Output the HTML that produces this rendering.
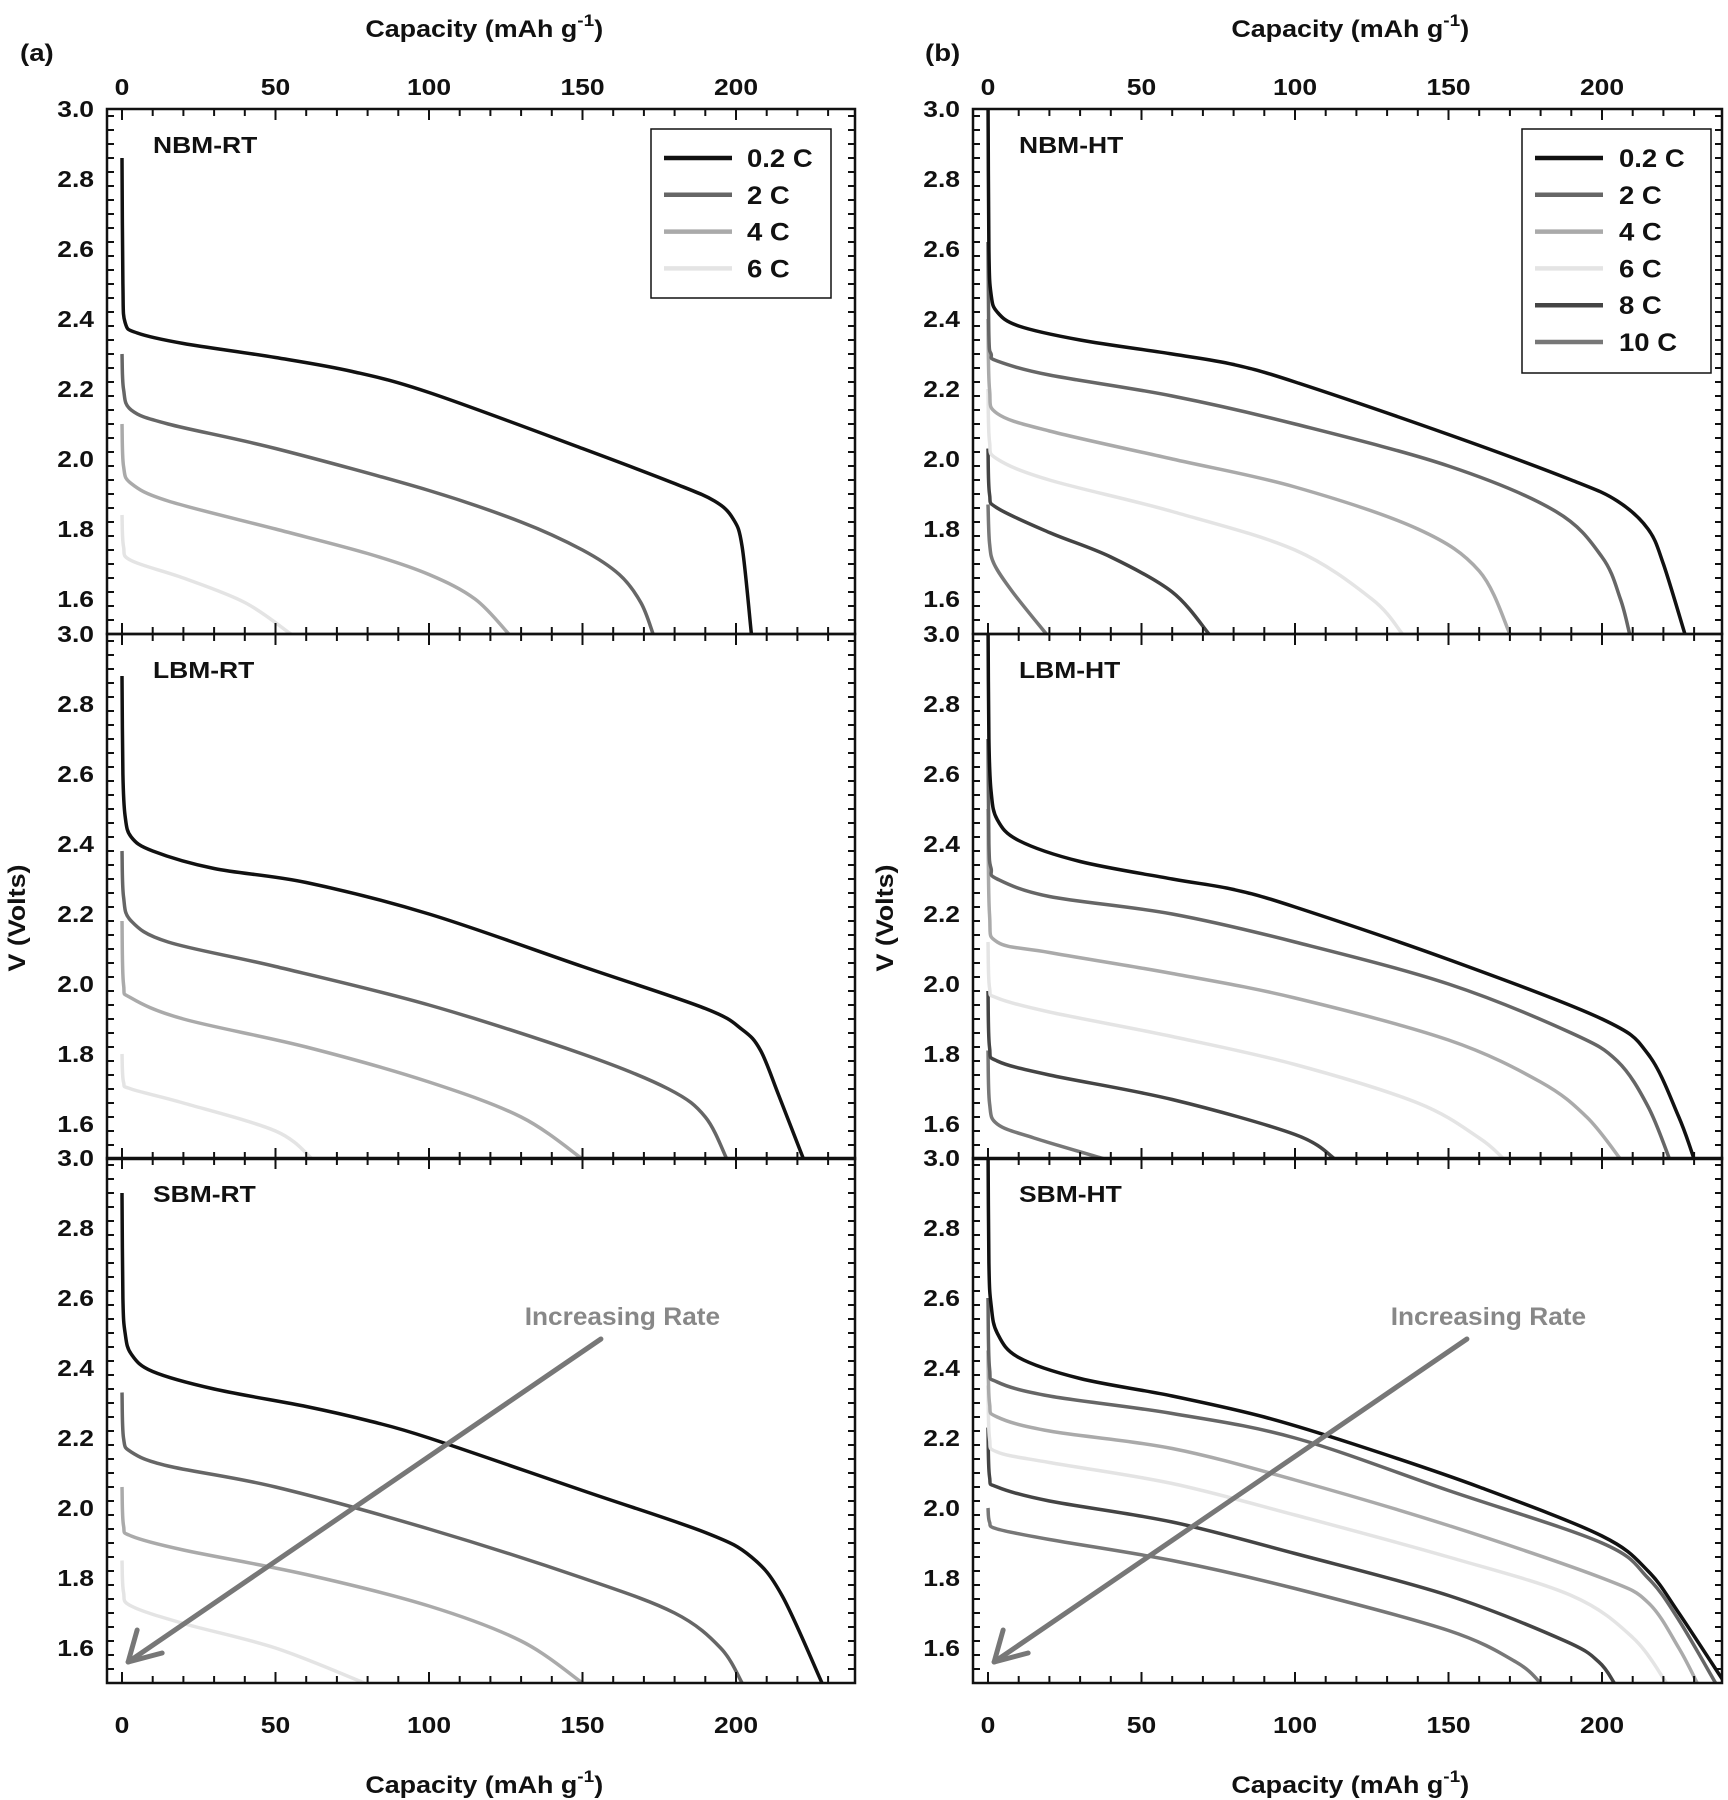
<!DOCTYPE html>
<html><head><meta charset="utf-8">
<style>
html,body{margin:0;padding:0;background:#fff;}
svg{display:block;font-family:"Liberation Sans",Arial,sans-serif;font-weight:bold;}
</style></head>
<body>
<svg id="s" width="1728" height="1800" viewBox="0 0 1728 1800" xmlns="http://www.w3.org/2000/svg">
<rect width="1728" height="1800" fill="#fff"/>
<g id="g"></g>
</svg>
<script>
var NS="http://www.w3.org/2000/svg";
var g=document.getElementById('g');
function el(t,a,txt){var e=document.createElementNS(NS,t);for(var k in a)e.setAttribute(k,a[k]);if(txt!==undefined)e.textContent=txt;g.appendChild(e);return e;}
function T(x,y,anchor,size,fill,str,sx,html,rot){
 var tr='translate('+x+' '+y+')'+(rot?' rotate(-90)':'')+' scale('+(sx||1.15)+' 1)';
 var e=el('text',{x:0,y:0,'text-anchor':anchor,'font-size':size,fill:fill,transform:tr});
 if(html)e.innerHTML=str;else e.textContent=str;return e;
}
var K=3.07, TOPS=[109,634,1158], H=525, BOT=1683;
var PANELS=[{L:107,R:855,X0:122},{L:973,R:1722,X0:988}];
var COL={"0.2":"#111","2":"#666","4":"#aaa","6":"#e4e4e4","8":"#444","10":"#777"};
var defs=document.createElementNS(NS,'defs');g.appendChild(defs);
PANELS.forEach(function(p,pi){TOPS.forEach(function(t,ti){
 var c=document.createElementNS(NS,'clipPath');c.setAttribute('id','c'+pi+ti);
 var r=document.createElementNS(NS,'rect');r.setAttribute('x',p.L);r.setAttribute('y',t);r.setAttribute('width',p.R-p.L);r.setAttribute('height',H);
 c.appendChild(r);defs.appendChild(c);});});
function path(pts,pi,ti){
 var p=PANELS[pi],t=TOPS[ti];
 var P=pts.map(function(q){return [p.X0+q[0]*K, t+(3.0-q[1])*350];});
 var d="M"+P[0][0].toFixed(1)+","+P[0][1].toFixed(1);
 for(var i=0;i<P.length-1;i++){
  var p0=P[Math.max(0,i-1)],p1=P[i],p2=P[i+1],p3=P[Math.min(P.length-1,i+2)];
  var c1=[p1[0]+(p2[0]-p0[0])/6,p1[1]+(p2[1]-p0[1])/6];
  var c2=[p2[0]-(p3[0]-p1[0])/6,p2[1]-(p3[1]-p1[1])/6];
  d+=" C"+c1[0].toFixed(1)+","+c1[1].toFixed(1)+" "+c2[0].toFixed(1)+","+c2[1].toFixed(1)+" "+p2[0].toFixed(1)+","+p2[1].toFixed(1);
 }
 return d;
}
var D=[
[
 [ ["6",[[0,1.84],[0.5,1.75],[3,1.71],[20,1.66],[40,1.59],[55,1.5]]],
   ["4",[[0,2.1],[0.5,1.98],[3,1.93],[15,1.88],[50,1.8],[80,1.73],[100,1.67],[115,1.6],[126,1.5]]],
   ["2",[[0,2.3],[0.5,2.2],[3,2.14],[15,2.1],[50,2.03],[100,1.91],[130,1.82],[150,1.74],[162,1.67],[169,1.59],[173,1.5]]],
   ["0.2",[[0,2.86],[0.3,2.5],[1,2.39],[5,2.36],[20,2.33],[50,2.29],[75,2.25],[100,2.19],[150,2.03],[180,1.93],[193,1.88],[199,1.83],[202,1.75],[205,1.5]]] ],
 [ ["6",[[0,1.8],[0.5,1.72],[3,1.7],[20,1.66],[50,1.58],[62,1.5]]],
   ["4",[[0,2.18],[0.5,2.0],[3,1.96],[20,1.9],[60,1.82],[100,1.72],[130,1.62],[150,1.5]]],
   ["2",[[0,2.38],[0.5,2.25],[3,2.18],[15,2.12],[50,2.05],[100,1.94],[150,1.8],[178,1.7],[190,1.62],[197,1.5]]],
   ["0.2",[[0,2.88],[0.3,2.6],[1,2.48],[3,2.42],[10,2.38],[30,2.33],[60,2.29],[100,2.2],[150,2.05],[190,1.93],[202,1.87],[208,1.81],[214,1.68],[222,1.5]]] ],
 [ ["6",[[0,1.85],[0.5,1.76],[3,1.72],[20,1.67],[50,1.6],[79,1.5]]],
   ["4",[[0,2.06],[0.5,1.95],[3,1.92],[20,1.88],[60,1.81],[100,1.72],[130,1.62],[150,1.5]]],
   ["2",[[0,2.33],[0.5,2.2],[3,2.16],[15,2.12],[50,2.06],[100,1.94],[150,1.8],[180,1.7],[195,1.6],[202,1.5]]],
   ["0.2",[[0,2.9],[0.3,2.6],[1,2.5],[3,2.44],[10,2.39],[30,2.34],[60,2.29],[80,2.25],[100,2.2],[150,2.05],[190,1.93],[205,1.86],[215,1.75],[228,1.5]]] ]
],
[
 [ ["10",[[0,1.87],[0.5,1.76],[2,1.7],[8,1.62],[19,1.5]]],
   ["8",[[0,2.03],[0.5,1.9],[3,1.86],[20,1.79],[40,1.72],[60,1.62],[72,1.5]]],
   ["6",[[0,2.2],[0.5,2.05],[3,2.0],[20,1.94],[60,1.85],[100,1.74],[125,1.6],[135,1.5]]],
   ["4",[[0,2.4],[0.5,2.2],[3,2.13],[20,2.08],[60,2.0],[100,1.92],[140,1.8],[160,1.68],[170,1.5]]],
   ["2",[[0,2.62],[0.3,2.35],[1,2.3],[3,2.28],[20,2.24],[60,2.18],[100,2.1],[150,1.98],[185,1.85],[200,1.72],[206,1.6],[209,1.5]]],
   ["0.2",[[0,3.05],[0.3,2.6],[1,2.47],[3,2.42],[10,2.38],[30,2.34],[60,2.3],[80,2.27],[100,2.22],[150,2.07],[190,1.94],[205,1.88],[215,1.8],[220,1.7],[227,1.5]]] ],
 [ ["10",[[0,1.81],[0.5,1.66],[3,1.6],[15,1.56],[38,1.5]]],
   ["8",[[0,1.98],[0.5,1.82],[3,1.78],[20,1.74],[60,1.67],[100,1.57],[113,1.5]]],
   ["6",[[0,2.12],[0.5,1.99],[3,1.96],[20,1.92],[60,1.85],[100,1.77],[140,1.66],[160,1.56],[168,1.5]]],
   ["4",[[0,2.5],[0.5,2.2],[3,2.12],[20,2.09],[60,2.03],[100,1.96],[150,1.84],[180,1.72],[195,1.62],[206,1.5]]],
   ["2",[[0,2.7],[0.3,2.4],[1,2.33],[3,2.3],[20,2.25],[60,2.2],[100,2.12],[150,2.0],[190,1.86],[205,1.78],[215,1.65],[222,1.5]]],
   ["0.2",[[0,3.05],[0.3,2.7],[1,2.55],[3,2.47],[10,2.41],[30,2.35],[60,2.3],[80,2.27],[100,2.22],[150,2.07],[200,1.9],[215,1.8],[225,1.62],[230,1.5]]] ],
 [ ["10",[[0,2.0],[0.5,1.96],[3,1.94],[20,1.91],[60,1.85],[100,1.77],[150,1.65],[172,1.56],[180,1.5]]],
   ["8",[[0,2.23],[0.5,2.09],[3,2.06],[20,2.02],[60,1.96],[100,1.87],[150,1.75],[188,1.62],[199,1.56],[204,1.5]]],
   ["6",[[0,2.35],[0.5,2.2],[3,2.16],[20,2.13],[60,2.07],[100,1.98],[150,1.86],[190,1.75],[210,1.63],[221,1.5]]],
   ["4",[[0,2.45],[0.5,2.3],[3,2.26],[20,2.22],[60,2.17],[100,2.08],[150,1.95],[200,1.8],[215,1.73],[225,1.6],[231,1.5]]],
   ["2",[[0,2.6],[0.5,2.4],[3,2.36],[20,2.32],[60,2.27],[100,2.2],[150,2.05],[200,1.9],[215,1.8],[225,1.68],[237,1.5]]],
   ["0.2",[[0,3.05],[0.3,2.7],[1,2.58],[3,2.5],[10,2.43],[30,2.37],[60,2.32],[90,2.26],[120,2.18],[160,2.06],[200,1.92],[215,1.82],[225,1.7],[240,1.5]]] ]
]];
D.forEach(function(panel,pi){panel.forEach(function(curves,ti){
 curves.forEach(function(c){
  el('path',{d:path(c[1],pi,ti),fill:'none',stroke:COL[c[0]],'stroke-width':3.5,'stroke-linejoin':'round','clip-path':'url(#c'+pi+ti+')'});
 });
});});
var LBL=["NBM","LBM","SBM"];
PANELS.forEach(function(p,pi){
 TOPS.forEach(function(t,ti){
  var b=t+H;
  el('rect',{x:p.L,y:t,width:p.R-p.L,height:H,fill:'none',stroke:'#111','stroke-width':2.5});
  for(var c=0;c<=230;c+=10){
   var x=p.X0+c*K, L=(c%50==0)?11:7;
   el('line',{x1:x,y1:t,x2:x,y2:t+L,stroke:'#111','stroke-width':2});
   el('line',{x1:x,y1:b,x2:x,y2:b-L,stroke:'#111','stroke-width':2});
  }
  for(var i=0;i<=37;i++){
   var v=1.5+i*0.04; var y=t+(3.0-v)*350; if(y<t+1||y>b-1)continue;
   var maj=Math.abs((v*5)-Math.round(v*5))<0.01; var L2=maj?11:7;
   el('line',{x1:p.L,y1:y,x2:p.L+L2,y2:y,stroke:'#111','stroke-width':2});
   el('line',{x1:p.R,y1:y,x2:p.R-L2,y2:y,stroke:'#111','stroke-width':2});
  }
  ["1.6","1.8","2.0","2.2","2.4","2.6","2.8","3.0"].forEach(function(s){
   var v=parseFloat(s); var y=t+(3.0-v)*350;
   T(p.L-13,y+8,'end',23,'#111',s);
  });
  T(p.X0+31,t+44,'start',23,'#111',LBL[ti]+(pi==0?"-RT":"-HT"));
 });
 [0,50,100,150,200].forEach(function(c){
  var x=p.X0+c*K;
  T(x,95,'middle',23,'#111',String(c));
  T(x,1733,'middle',23,'#111',String(c));
 });
 var cx=p.X0+118*K;
 var lab='Capacity (mAh g<tspan dy="-11" font-size="17">-1</tspan><tspan dy="11">)</tspan>';
 T(cx,37,'middle',24,'#111',lab,1.12,true);
 T(cx,1793,'middle',24,'#111',lab,1.12,true);
 var yx=pi==0?25:893;
 T(yx,918,'middle',24,'#111','V (Volts)',1.12,false,true);
 T(pi==0?20:925,61,'start',24,'#111',pi==0?'(a)':'(b)');
 var ax1=p.X0+156*K, ay1=1339, ax2=p.X0+2*K, ay2=1662;
 el('line',{x1:ax1,y1:ay1,x2:ax2,y2:ay2,stroke:'#777','stroke-width':5,'stroke-linecap':'round'});
 el('polyline',{points:(ax2+9)+','+(ay2-32)+' '+ax2+','+ay2+' '+(ax2+34)+','+(ay2-9),fill:'none',stroke:'#777','stroke-width':5,'stroke-linecap':'round','stroke-linejoin':'round'});
 T(p.X0+163*K,1325,'middle',25,'#888','Increasing Rate',1.05);
});
function legend(x,y,w,h,items,lx,tx){
 el('rect',{x:x,y:y,width:w,height:h,fill:'#fff',stroke:'#111','stroke-width':1.5});
 items.forEach(function(it,i){
  var yy=158+i*36.8;
  el('line',{x1:lx,y1:yy,x2:lx+68,y2:yy,stroke:COL[it],'stroke-width':4.5});
  T(tx,yy+9,'start',25,'#111',it+' C',1.1);
 });
}
legend(651,129,180,169,["0.2","2","4","6"],664,747);
legend(1522,129,189,244,["0.2","2","4","6","8","10"],1535,1619);
</script>
</body></html>
